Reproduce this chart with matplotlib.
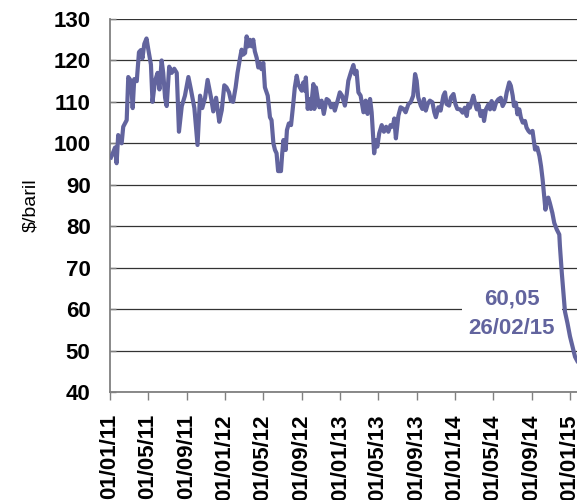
import matplotlib
matplotlib.use("Agg")
import matplotlib.pyplot as plt
import matplotlib.dates as mdates
import pandas as pd
import numpy as np

plt.rcParams['font.family'] = ['Liberation Sans', 'DejaVu Sans']

dates = [
    "2011-01-04", "2011-01-12", "2011-01-17", "2011-01-22", "2011-01-27", "2011-02-07", "2011-02-12",
    "2011-02-23", "2011-02-28", "2011-03-09", "2011-03-14", "2011-03-19", "2011-03-27", "2011-04-03",
    "2011-04-09", "2011-04-14", "2011-04-20", "2011-04-27", "2011-05-03", "2011-05-11", "2011-05-16",
    "2011-05-24", "2011-06-01", "2011-06-07", "2011-06-14", "2011-06-19", "2011-06-25", "2011-06-30",
    "2011-07-08", "2011-07-16", "2011-07-24", "2011-08-01", "2011-08-08", "2011-08-17", "2011-08-27",
    "2011-09-07", "2011-09-15", "2011-09-26", "2011-10-06", "2011-10-14", "2011-10-21", "2011-10-30",
    "2011-11-07", "2011-11-18", "2011-11-25", "2011-12-04", "2011-12-14", "2011-12-22", "2011-12-30",
    "2012-01-06", "2012-01-14", "2012-01-20", "2012-01-27", "2012-02-04", "2012-02-10", "2012-02-18",
    "2012-02-23", "2012-02-28", "2012-03-05", "2012-03-10", "2012-03-15", "2012-03-20", "2012-03-26",
    "2012-03-31", "2012-04-05", "2012-04-11", "2012-04-16", "2012-04-21", "2012-04-26", "2012-05-02",
    "2012-05-07", "2012-05-16", "2012-05-23", "2012-05-28", "2012-06-03", "2012-06-08", "2012-06-13",
    "2012-06-18", "2012-06-27", "2012-07-01", "2012-07-05", "2012-07-12", "2012-07-16", "2012-07-22",
    "2012-07-29", "2012-08-05", "2012-08-10", "2012-08-16", "2012-08-21", "2012-08-26", "2012-09-01",
    "2012-09-06", "2012-09-11", "2012-09-14", "2012-09-20", "2012-09-24", "2012-09-30", "2012-10-08",
    "2012-10-11", "2012-10-16", "2012-10-21", "2012-10-27", "2012-11-03", "2012-11-10", "2012-11-19",
    "2012-11-26", "2012-12-03", "2012-12-10", "2012-12-15", "2012-12-24", "2012-12-31", "2013-01-07",
    "2013-01-16", "2013-01-22", "2013-01-27", "2013-02-04", "2013-02-12", "2013-02-17", "2013-02-22",
    "2013-02-28", "2013-03-07", "2013-03-16", "2013-03-23", "2013-03-29", "2013-04-06", "2013-04-11",
    "2013-04-19", "2013-04-24", "2013-04-29", "2013-05-05", "2013-05-13", "2013-05-20", "2013-05-27",
    "2013-06-03", "2013-06-10", "2013-06-17", "2013-06-22", "2013-06-27", "2013-07-05", "2013-07-12",
    "2013-07-21", "2013-07-28", "2013-08-06", "2013-08-13", "2013-08-21", "2013-08-27", "2013-09-01",
    "2013-09-06", "2013-09-14", "2013-09-19", "2013-09-24", "2013-09-30", "2013-10-06", "2013-10-13",
    "2013-10-21", "2013-10-27", "2013-11-01", "2013-11-09", "2013-11-16", "2013-11-25", "2013-11-30",
    "2013-12-05", "2013-12-13", "2013-12-19", "2013-12-27", "2014-01-02", "2014-01-08", "2014-01-17",
    "2014-01-25", "2014-02-01", "2014-02-07", "2014-02-12", "2014-02-17", "2014-02-23", "2014-02-28",
    "2014-03-05", "2014-03-11", "2014-03-16", "2014-03-23", "2014-03-30", "2014-04-03", "2014-04-09",
    "2014-04-17", "2014-04-22", "2014-04-27", "2014-05-05", "2014-05-11", "2014-05-18", "2014-05-26",
    "2014-06-01", "2014-06-09", "2014-06-14", "2014-06-22", "2014-06-27", "2014-07-03", "2014-07-07",
    "2014-07-13", "2014-07-18", "2014-07-24", "2014-07-29", "2014-08-04", "2014-08-11", "2014-08-16",
    "2014-08-22", "2014-08-27", "2014-09-04", "2014-09-09", "2014-09-12", "2014-09-19", "2014-09-26",
    "2014-10-01", "2014-10-06", "2014-10-10", "2014-10-15", "2014-10-19", "2014-10-24", "2014-10-29",
    "2014-11-06", "2014-11-12", "2014-11-20", "2014-11-28", "2014-11-30", "2014-12-06", "2014-12-11",
    "2014-12-16", "2014-12-24", "2015-01-01", "2015-01-09", "2015-01-17", "2015-01-24",
]

prices = [
    96.6, 98.0, 99.0, 95.2, 102.0, 100.0, 104.0,
    105.6, 116.0, 115.0, 108.5, 115.5, 115.0, 122.0,
    122.5, 120.5, 124.0, 125.3, 122.5, 119.0, 110.0,
    115.0, 117.0, 113.0, 120.0, 117.0, 111.0, 109.0,
    118.5, 117.0, 118.0, 117.0, 102.8, 109.0, 111.5,
    116.0, 113.0, 108.5, 99.6, 111.5, 108.5, 111.0,
    115.3, 111.0, 107.7, 111.0, 105.2, 108.0, 114.0,
    113.5, 112.3, 110.3, 110.0, 113.5, 117.0, 120.6,
    122.6, 121.4, 121.8, 125.8, 123.4, 125.0, 123.4,
    125.0, 122.2, 120.6, 118.3, 119.4, 117.9, 119.4,
    113.5, 111.5, 106.3, 105.6, 100.0, 98.4, 97.6,
    93.3, 93.3, 97.6, 100.8, 98.4, 103.2, 104.8,
    104.4, 109.5, 113.5, 116.3, 114.3, 113.5, 112.7,
    114.7, 112.7, 115.9, 108.3, 110.7, 108.3, 114.3,
    108.3, 113.5, 111.1, 108.7, 110.3, 107.1, 110.7,
    110.3, 108.7, 109.5, 107.9, 110.3, 112.3, 111.5,
    109.1, 111.9, 115.1, 117.1, 118.9, 116.7, 117.5,
    112.3, 111.5, 107.5, 110.3, 107.1, 110.7, 107.5,
    97.6, 100.8, 99.2, 102.4, 104.4, 102.8, 104.0,
    102.8, 104.4, 104.0, 106.0, 101.2, 106.7, 108.7,
    108.3, 107.5, 109.5, 109.9, 111.5, 116.7, 115.1,
    111.1, 109.1, 108.3, 110.7, 107.9, 109.5, 110.3,
    109.9, 107.5, 106.3, 108.7, 107.9, 111.5, 112.3,
    109.5, 109.1, 111.1, 111.9, 109.5, 108.3, 108.2,
    107.4, 108.6, 106.6, 109.4, 108.6, 110.2, 111.5,
    109.8, 108.2, 109.4, 106.6, 107.8, 105.4, 108.2,
    109.4, 108.2, 110.2, 108.2, 109.8, 110.6, 111.0,
    109.0, 110.2, 112.3, 114.7, 113.9, 111.5, 109.0,
    109.8, 107.0, 108.2, 106.2, 105.0, 105.4, 103.8,
    103.0, 102.6, 103.0, 100.2, 98.5, 99.0, 96.9,
    94.5, 91.3, 88.1, 84.0, 86.5, 86.9, 85.6,
    83.2, 80.8, 79.2, 78.0, 75.2, 68.7, 63.9,
    59.4, 56.6, 53.4, 51.0, 48.5, 47.5,
]

tick_dates = ["2011-01-01", "2011-05-01", "2011-09-01", "2012-01-01", "2012-05-01", "2012-09-01",
              "2013-01-01", "2013-05-01", "2013-09-01", "2014-01-01", "2014-05-01", "2014-09-01",
              "2015-01-01"]
tick_labels = ["01/01/11", "01/05/11", "01/09/11", "01/01/12", "01/05/12", "01/09/12",
               "01/01/13", "01/05/13", "01/09/13", "01/01/14", "01/05/14", "01/09/14",
               "01/01/15"]
y_ticks = [40, 50, 60, 70, 80, 90, 100, 110, 120, 130]
annotation_lines = ["60,05", "26/02/15"]
y_label = "$/baril"

line_color = "#62649E"

fig = plt.figure(figsize=(5.77, 5.0), dpi=100)
ax = fig.add_axes([110 / 577, 0.216, 470 / 577, 0.746])

x = pd.to_datetime(dates)
ax.plot(x, prices, color=line_color, lw=3.0, solid_joinstyle='round', zorder=3)

x0 = mdates.date2num(pd.Timestamp("2011-01-01"))
x1 = mdates.date2num(pd.Timestamp("2015-01-01"))
ax.set_xlim(x0, x0 + (x1 - x0) * 470 / 460)
ax.set_ylim(40, 130)

ax.set_yticks(y_ticks)
ax.set_yticklabels([str(v) for v in y_ticks], fontsize=16, fontweight='bold')
ax.set_xticks(pd.to_datetime(tick_dates))
ax.set_xticklabels(tick_labels, rotation=90, fontsize=16, fontweight='bold')

ax.yaxis.grid(True, color='#333333', lw=0.9, zorder=1)
ax.set_axisbelow(True)

for s in ['right', 'top']:
    ax.spines[s].set_visible(False)
for s in ['left', 'bottom']:
    ax.spines[s].set_color('#808080')
    ax.spines[s].set_linewidth(1.3)

ax.tick_params(axis='x', direction='out', length=6, width=1, color='#808080', pad=10)
ax.tick_params(axis='y', direction='in', length=4, width=1, color='#808080', pad=14)

ax.set_ylabel(y_label, fontsize=14)
ax.yaxis.set_label_coords(-0.15, 0.5)

ax.text(0.855, 0.21, "\n".join(annotation_lines), transform=ax.transAxes,
        ha='center', va='center', fontsize=16, fontweight='bold', color=line_color,
        linespacing=1.55, zorder=2.5,
        bbox=dict(facecolor='white', edgecolor='none', pad=5))

fig.savefig("out.png", dpi=100)
